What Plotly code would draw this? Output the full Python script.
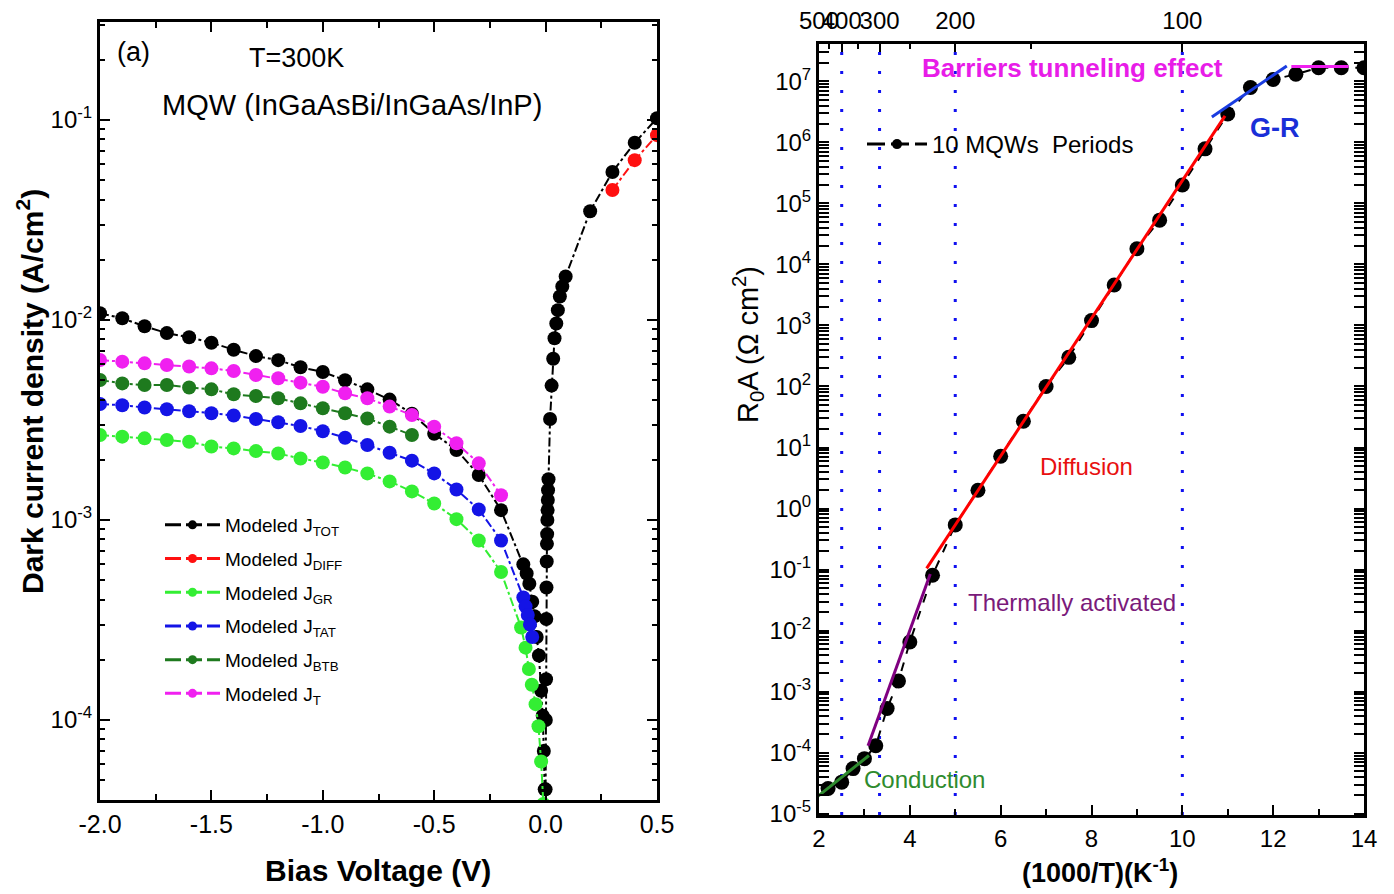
import numpy as np
import plotly.graph_objects as go

# ---------------- Left panel data (T = 300 K) ----------------
v_tot = [-2.0, -1.9, -1.8, -1.7, -1.6, -1.5, -1.4, -1.3, -1.2, -1.1, -1.0, -0.9, -0.8, -0.7,
         -0.6, -0.5, -0.4, -0.3, -0.2, -0.1, -0.085, -0.073, -0.06, -0.05, -0.04, -0.03,
         -0.02, -0.013, -0.008, -0.004, -0.002,
         0.0, 0.001, 0.002, 0.003, 0.004, 0.005, 0.006, 0.007, 0.008, 0.009, 0.010, 0.011,
         0.013, 0.02, 0.027, 0.034, 0.04, 0.048, 0.055, 0.064, 0.075, 0.09, 0.2, 0.3, 0.4, 0.5]
j_tot = [0.0108, 0.0102, 0.0093, 0.0086, 0.0082, 0.0077, 0.0071, 0.0066, 0.0063, 0.0058,
         0.0055, 0.0050, 0.0045, 0.0040, 0.0034, 0.0027, 0.00224, 0.00168, 0.00112, 6.0e-4,
         5.4e-4, 4.8e-4, 3.9e-4, 3.3e-4, 2.6e-4, 2.1e-4, 1.4e-4, 1.05e-4, 7.0e-5, 4.5e-5, 3.5e-5,
         4.5e-5, 1.0e-4, 1.6e-4, 3.2e-4, 4.6e-4, 6.2e-4, 7.6e-4, 8.5e-4, 1.0e-3, 1.12e-3,
         1.26e-3, 1.41e-3, 1.6e-3, 3.2e-3, 4.7e-3, 6.4e-3, 8.1e-3, 9.6e-3, 0.0112, 0.0131,
         0.0147, 0.0165, 0.035, 0.055, 0.077, 0.102]

v_diff = [0.3, 0.4, 0.5]
j_diff = [0.0447, 0.063, 0.084]

v_gr = [-2.0, -1.9, -1.8, -1.7, -1.6, -1.5, -1.4, -1.3, -1.2, -1.1, -1.0, -0.9, -0.8, -0.7,
        -0.6, -0.5, -0.4, -0.3, -0.2, -0.11, -0.09, -0.075, -0.062, -0.045, -0.032, -0.02, -0.01]
j_gr = [2.66e-3, 2.61e-3, 2.56e-3, 2.51e-3, 2.46e-3, 2.33e-3, 2.28e-3, 2.21e-3, 2.15e-3,
        2.03e-3, 1.94e-3, 1.83e-3, 1.71e-3, 1.56e-3, 1.39e-3, 1.21e-3, 1.01e-3, 7.9e-4, 5.5e-4,
        2.9e-4, 2.3e-4, 1.8e-4, 1.5e-4, 1.2e-4, 9.3e-5, 6.2e-5, 3.8e-5]

v_tat = [-2.0, -1.9, -1.8, -1.7, -1.6, -1.5, -1.4, -1.3, -1.2, -1.1, -1.0, -0.9, -0.8, -0.7,
         -0.6, -0.5, -0.4, -0.3, -0.2, -0.1, -0.09, -0.08, -0.07, -0.06]
j_tat = [3.8e-3, 3.75e-3, 3.65e-3, 3.58e-3, 3.5e-3, 3.42e-3, 3.33e-3, 3.2e-3, 3.08e-3, 2.95e-3,
         2.78e-3, 2.58e-3, 2.37e-3, 2.17e-3, 1.98e-3, 1.71e-3, 1.42e-3, 1.13e-3, 7.9e-4, 4.1e-4,
         3.7e-4, 3.35e-4, 3.0e-4, 2.6e-4]

v_btb = [-2.0, -1.9, -1.8, -1.7, -1.6, -1.5, -1.4, -1.3, -1.2, -1.1, -1.0, -0.9, -0.8, -0.7, -0.6]
j_btb = [5.01e-3, 4.82e-3, 4.73e-3, 4.73e-3, 4.6e-3, 4.5e-3, 4.25e-3, 4.17e-3, 4.06e-3, 3.83e-3,
         3.62e-3, 3.42e-3, 3.22e-3, 2.93e-3, 2.66e-3]

v_t = [-2.0, -1.9, -1.8, -1.7, -1.6, -1.5, -1.4, -1.3, -1.2, -1.1, -1.0, -0.9, -0.8, -0.7,
       -0.6, -0.5, -0.4, -0.3, -0.2]
j_t = [6.31e-3, 6.19e-3, 6.07e-3, 5.96e-3, 5.85e-3, 5.73e-3, 5.56e-3, 5.31e-3, 5.11e-3, 4.86e-3,
       4.64e-3, 4.30e-3, 4.06e-3, 3.69e-3, 3.35e-3, 2.93e-3, 2.42e-3, 1.92e-3, 1.33e-3]

left_series = [
    ("Modeled J<sub>TOT</sub>", v_tot, j_tot, "#000000"),
    ("Modeled J<sub>DIFF</sub>", v_diff, j_diff, "#FF1010"),
    ("Modeled J<sub>GR</sub>", v_gr, j_gr, "#33EE33"),
    ("Modeled J<sub>TAT</sub>", v_tat, j_tat, "#1414E6"),
    ("Modeled J<sub>BTB</sub>", v_btb, j_btb, "#1E7A1E"),
    ("Modeled J<sub>T</sub>", v_t, j_t, "#F020F0"),
]

# ---------------- Right panel data (R0A vs 1000/T) ----------------
inv_t = [2.2, 2.5, 2.75, 3.0, 3.25, 3.5, 3.75, 4.0, 4.5, 5.0, 5.5, 6.0, 6.5, 7.0, 7.5, 8.0,
         8.5, 9.0, 9.5, 10.0, 10.5, 11.0, 11.5, 12.0, 12.5, 13.0, 13.5, 14.0]
r0a = [2.6e-5, 3.3e-5, 5.5e-5, 8e-5, 1.3e-4, 5.3e-4, 1.5e-3, 6.5e-3, 8.1e-2, 0.54, 2.0, 7.2,
       27, 100, 300, 1200, 4600, 1.8e4, 5.3e4, 2e5, 7.8e5, 2.9e6, 7.9e6, 1.07e7, 1.3e7,
       1.66e7, 1.66e7, 1.66e7]

fit_conduction_x = [1.92, 3.1]
fit_conduction_y = [1.8e-5, 9.0e-5]
fit_thermal_x = [3.08, 4.45]
fit_thermal_y = [1.3e-4, 8.5e-2]
fit_diffusion_x = [4.37, 10.94]
fit_diffusion_y = [0.105, 2.7e6]
fit_gr_x = [10.65, 12.3]
fit_gr_y = [2.6e6, 1.78e7]
fit_tunnel_x = [12.4, 13.66]
fit_tunnel_y = [1.75e7, 1.75e7]

top_temps_major = [500, 400, 300, 200, 100]
top_temps_minor = [450, 350, 250, 150]
ref_line_temps = [400, 300, 200, 100]

FONT = "Liberation Sans, Arial, sans-serif"
KEY_DASH = "16px,5px"

fig = go.Figure()

for i, (name, xs, ys, col) in enumerate(left_series):
    fig.add_trace(go.Scatter(
        x=xs, y=ys, mode="lines+markers", showlegend=False,
        line=dict(color=col, width=2, dash="dashdot"),
        marker=dict(color=col, size=14, symbol="circle"),
        xaxis="x", yaxis="y"))
for i, (name, xs, ys, col) in enumerate(left_series):
    # legend-only entry (small marker like the reference key)
    fig.add_trace(go.Scatter(
        x=[None], y=[None], name=name, mode="lines+markers", legendgroup="g%d" % i,
        line=dict(color=col, width=3, dash=KEY_DASH),
        marker=dict(color=col, size=9), xaxis="x", yaxis="y", legend="legend"))

fig.add_trace(go.Scatter(
    x=inv_t, y=r0a, mode="lines+markers", showlegend=False,
    line=dict(color="black", width=2, dash="dash"),
    marker=dict(color="black", size=15),
    xaxis="x2", yaxis="y2"))
fig.add_trace(go.Scatter(
    x=[None], y=[None], name="10 MQWs  Periods", mode="lines+markers",
    line=dict(color="black", width=3, dash="18px,6px"),
    marker=dict(color="black", size=10), xaxis="x2", yaxis="y2", legend="legend2"))

for xs, ys, col in [(fit_conduction_x, fit_conduction_y, "#2E8B2E"),
                    (fit_thermal_x, fit_thermal_y, "#800080"),
                    (fit_diffusion_x, fit_diffusion_y, "#FF0000"),
                    (fit_gr_x, fit_gr_y, "#1A3CE0"),
                    (fit_tunnel_x, fit_tunnel_y, "#F020F0")]:
    fig.add_trace(go.Scatter(x=xs, y=ys, mode="lines", showlegend=False,
                             line=dict(color=col, width=3), xaxis="x2", yaxis="y2"))

# invisible trace to make the top temperature axis render
fig.add_trace(go.Scatter(x=[2, 14], y=[1, 1], mode="markers", opacity=0, showlegend=False,
                         hoverinfo="skip", xaxis="x3", yaxis="y2"))

# reference dotted lines at selected temperatures
for T in ref_line_temps:
    fig.add_shape(type="line", xref="x2", yref="y2 domain", x0=1000 / T, x1=1000 / T,
                  y0=0, y1=1, line=dict(color="#1010F0", width=3, dash="3px,16px"), layer="below")


def log_minor(lo, hi):
    vals = []
    for e in range(lo, hi + 1):
        for k in range(2, 10):
            vals.append(k * 10.0 ** e)
    return vals


def pow_ticks(lo, hi):
    vals = [10.0 ** e for e in range(lo, hi + 1)]
    txt = ["10<sup>%d</sup>" % e for e in range(lo, hi + 1)]
    return vals, txt


yv1, yt1 = pow_ticks(-4, -1)
yv2, yt2 = pow_ticks(-5, 7)

axis_common = dict(showline=True, linecolor="black", linewidth=3, ticks="inside",
                   tickcolor="black", tickwidth=2, showgrid=False, zeroline=False,
                   automargin=False, tickangle=0)

fig.update_layout(
    width=1394, height=894, margin=dict(l=0, r=0, t=0, b=0),
    paper_bgcolor="white", plot_bgcolor="white",
    font=dict(family=FONT, color="black"),
    xaxis=dict(domain=[100 / 1394, 657 / 1394], anchor="y", range=[-2.0, 0.5],
               tickvals=[-2.0, -1.5, -1.0, -0.5, 0.0, 0.5],
               ticktext=["-2.0", "-1.5", "-1.0", "-0.5", "0.0", "0.5"],
               ticklen=10, mirror="allticks", tickfont=dict(size=25),
               minor=dict(tickvals=[-1.75, -1.25, -0.75, -0.25, 0.25], ticks="inside",
                          ticklen=6, tickwidth=2, tickcolor="black"),
               **axis_common),
    yaxis=dict(domain=[1 - 800 / 894, 1 - 22 / 894], anchor="x", type="log",
               range=[-4.4, -0.51], tickvals=yv1, ticktext=yt1, ticklen=10,
               mirror="allticks", tickfont=dict(size=24),
               minor=dict(tickvals=log_minor(-5, -1), ticks="inside", ticklen=5,
                          tickwidth=2, tickcolor="black"),
               **axis_common),
    xaxis2=dict(domain=[819 / 1394, 1364 / 1394], anchor="y2", range=[2, 14],
                tickvals=[2, 4, 6, 8, 10, 12, 14], ticklen=10, mirror=True,
                tickfont=dict(size=24),
                minor=dict(tickvals=[3, 5, 7, 9, 11, 13], ticks="inside", ticklen=6,
                           tickwidth=2, tickcolor="black"),
                **axis_common),
    xaxis3=dict(overlaying="x2", side="top", anchor="y2", range=[2, 14],
                tickvals=[1000 / T for T in top_temps_major],
                ticktext=[str(T) for T in top_temps_major],
                ticklen=8, tickfont=dict(size=24), ticklabelstandoff=2,
                minor=dict(tickvals=[1000 / T for T in top_temps_minor], ticks="inside",
                           ticklen=5, tickwidth=2, tickcolor="black"),
                **axis_common),
    yaxis2=dict(domain=[1 - 815 / 894, 1 - 44 / 894], anchor="x2", type="log",
                range=[-5.02, 7.61], tickvals=yv2, ticktext=yt2, ticklen=10,
                mirror="allticks", tickfont=dict(size=24),
                minor=dict(tickvals=log_minor(-6, 7), ticks="inside", ticklen=5,
                           tickwidth=2, tickcolor="black"),
                **axis_common),
    legend=dict(x=160 / 1394, y=1 - 506 / 894, xanchor="left", yanchor="top",
                bgcolor="rgba(0,0,0,0)", font=dict(size=19, family=FONT),
                itemwidth=55, tracegroupgap=6),
    legend2=dict(x=862 / 1394, y=1 - 122 / 894, xanchor="left", yanchor="top",
                 bgcolor="rgba(0,0,0,0)", font=dict(size=24, family=FONT), itemwidth=60),
    showlegend=True,
)

ann = [
    dict(text="(a)", x=133, y=52, size=27, color="black", bold=False),
    dict(text="T=300K", x=296, y=58, size=27, color="black", bold=False),
    dict(text="MQW (InGaAsBi/InGaAs/InP)", x=352, y=105, size=29, color="black", bold=False),
    dict(text="Barriers tunneling effect", x=1072, y=68, size=26, color="#E81CE8", bold=True),
    dict(text="G-R", x=1275, y=128, size=27, color="#1A2FD8", bold=True),
    dict(text="Diffusion", x=1086, y=466, size=24, color="#E81010", bold=False),
    dict(text="Thermally activated", x=1072, y=602, size=24, color="#7A1A7A", bold=False),
    dict(text="Conduction", x=924, y=779, size=24, color="#2E8B2E", bold=False),
    dict(text="Bias Voltage (V)", x=378, y=870, size=30, color="black", bold=True),
    dict(text="(1000/T)(K<sup>-1</sup>)", x=1100, y=871, size=27, color="black", bold=True),
]
for a in ann:
    txt = "<b>%s</b>" % a["text"] if a["bold"] else a["text"]
    fig.add_annotation(text=txt, x=a["x"] / 1394, y=1 - a["y"] / 894, xref="paper",
                       yref="paper", showarrow=False, xanchor="center", yanchor="middle",
                       font=dict(size=a["size"], color=a["color"], family=FONT))

fig.add_annotation(text="<b>Dark current density (A/cm<sup>2</sup>)</b>", x=30 / 1394,
                   y=1 - 392 / 894, xref="paper", yref="paper", showarrow=False,
                   textangle=-90, xanchor="center", yanchor="middle",
                   font=dict(size=30, color="black", family=FONT))
fig.add_annotation(text="R<sub>0</sub>A (Ω cm<sup>2</sup>)", x=748 / 1394,
                   y=1 - 345 / 894, xref="paper", yref="paper", showarrow=False,
                   textangle=-90, xanchor="center", yanchor="middle",
                   font=dict(size=29, color="black", family=FONT))

fig.write_html("out.html")
